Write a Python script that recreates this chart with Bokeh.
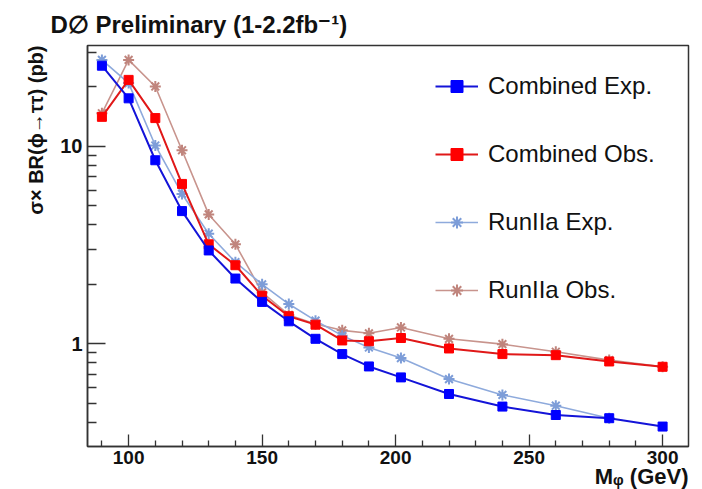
from bokeh.plotting import figure
from bokeh.models import Range1d, FixedTicker, Legend, LegendItem, BasicTickFormatter, Title
from bokeh.embed import file_html
from bokeh.resources import INLINE

# ---- data ----
mass = [90, 100, 110, 120, 130, 140, 150, 160, 170, 180, 190, 202, 220, 240, 260, 280, 300]
comb_exp = [25.6, 17.5, 8.5, 4.7, 2.97, 2.14, 1.63, 1.30, 1.06, 0.887, 0.768, 0.676, 0.557, 0.481, 0.436, 0.420, 0.381]
comb_obs = [14.1, 21.7, 13.9, 6.45, 3.19, 2.50, 1.75, 1.38, 1.25, 1.04, 1.03, 1.07, 0.947, 0.887, 0.876, 0.814, 0.765]
mass_r2a_exp = [90, 100, 110, 120, 130, 140, 150, 160, 170, 180, 190, 202, 220, 240, 260, 280]
r2a_exp = [27.4, 20.9, 10.1, 5.74, 3.61, 2.59, 2.00, 1.59, 1.31, 1.10, 0.958, 0.847, 0.663, 0.551, 0.486, 0.420]
r2a_obs = [14.7, 27.4, 20.1, 9.55, 4.52, 3.19, 1.82, 1.40, 1.26, 1.17, 1.13, 1.21, 1.06, 0.996, 0.911, 0.827, 0.765]

x_major = [100, 150, 200, 250, 300]
x_minor = [90, 110, 120, 130, 140, 160, 170, 180, 190, 210, 220, 230, 240, 260, 270, 280, 290]
y_major = [1, 10]
y_minor = [0.3, 0.4, 0.5, 0.6, 0.7, 0.8, 0.9, 2, 3, 4, 5, 6, 7, 8, 9, 20, 30]

series_labels = ["Combined Exp.", "Combined Obs.", "RunIIa Exp.", "RunIIa Obs."]
title_text = "D\u2205 Preliminary (1-2.2fb\u207b\u00b9)"
y_label = "\u03c3\u00d7 BR(\u03d5\u2192\u03c4\u03c4) (pb)"
x_label = "M\u1d69 (GeV)"

FONT = "Liberation Sans"
INK = "#111111"

p = figure(width=702, height=489, y_axis_type="log",
           x_range=Range1d(84.6, 309.7), y_range=Range1d(0.302, 32.4),
           output_backend="svg", toolbar_location=None, title=None,
           min_border_left=87, min_border_right=14, min_border_top=44, min_border_bottom=43)

p.xgrid.visible = False
p.ygrid.visible = False
p.outline_line_color = "#333333"
p.outline_line_width = 1.5
p.background_fill_color = "white"
p.border_fill_color = "white"

p.xaxis.ticker = FixedTicker(ticks=x_major, minor_ticks=x_minor)
p.yaxis.ticker = FixedTicker(ticks=y_major, minor_ticks=y_minor)
p.yaxis.formatter = BasicTickFormatter()

for ax in (p.xaxis, p.yaxis):
    ax.axis_line_color = "#333333"
    ax.axis_line_width = 1.5
    ax.major_tick_out = 0
    ax.minor_tick_out = 0
    ax.major_tick_line_color = "#333333"
    ax.minor_tick_line_color = "#333333"
    ax.major_tick_line_width = 1.3
    ax.minor_tick_line_width = 1.3
    ax.major_label_text_font = FONT
    ax.major_label_text_font_style = "bold"
    ax.major_label_text_color = INK

p.xaxis.major_label_text_font_size = "19px"
p.yaxis.major_label_text_font_size = "20px"
p.xaxis.major_tick_in = 12
p.xaxis.minor_tick_in = 6
p.xaxis.major_label_standoff = 4
p.yaxis.major_tick_in = 18
p.yaxis.minor_tick_in = 9
p.yaxis.major_label_standoff = 5

# ---- series ----
r2o_l = p.line(mass, r2a_obs, line_color="#c8948d", line_width=1.6)
r2o_s = p.scatter(mass, r2a_obs, marker="asterisk", size=11, line_color="#c0857d", line_width=2)
r2e_l = p.line(mass_r2a_exp, r2a_exp, line_color="#8eaadc", line_width=1.6)
r2e_s = p.scatter(mass_r2a_exp, r2a_exp, marker="asterisk", size=11, line_color="#7d9dd8", line_width=2)
co_l = p.line(mass, comb_obs, line_color="#e01818", line_width=2)
co_s = p.scatter(mass, comb_obs, marker="square", size=9, fill_color="#ff0000", line_color="#ff0000")
ce_l = p.line(mass, comb_exp, line_color="#1414d8", line_width=2)
ce_s = p.scatter(mass, comb_exp, marker="square", size=9, fill_color="#0000ff", line_color="#0000ff")

legend = Legend(items=[
    LegendItem(label=series_labels[0], renderers=[ce_l, ce_s]),
    LegendItem(label=series_labels[1], renderers=[co_l, co_s]),
    LegendItem(label=series_labels[2], renderers=[r2e_l, r2e_s]),
    LegendItem(label=series_labels[3], renderers=[r2o_l, r2o_s]),
], location=(348, 141))
legend.border_line_color = None
legend.background_fill_alpha = 0
legend.padding = 0
legend.margin = 0
legend.spacing = 38
legend.label_height = 30
legend.glyph_height = 30
legend.glyph_width = 43
legend.label_standoff = 10
legend.label_text_font = FONT
legend.label_text_font_size = "24px"
legend.label_text_color = INK
p.add_layout(legend)

# titles as axis labels / heading
t_top = Title(text=title_text, align="left", offset=-37, standoff=16,
              text_font=FONT, text_font_size="24px", text_font_style="bold", text_color=INK)
p.add_layout(t_top, "above")

t_left = Title(text=y_label, align="right", offset=0, standoff=21,
               text_font=FONT, text_font_size="20px", text_font_style="bold", text_color=INK)
p.add_layout(t_left, "left")

t_below = Title(text=x_label, align="right", offset=0, standoff=-9,
                text_font=FONT, text_font_size="22px", text_font_style="bold", text_color=INK)
p.add_layout(t_below, "below")

open("out.html", "w").write(file_html(p, INLINE))
